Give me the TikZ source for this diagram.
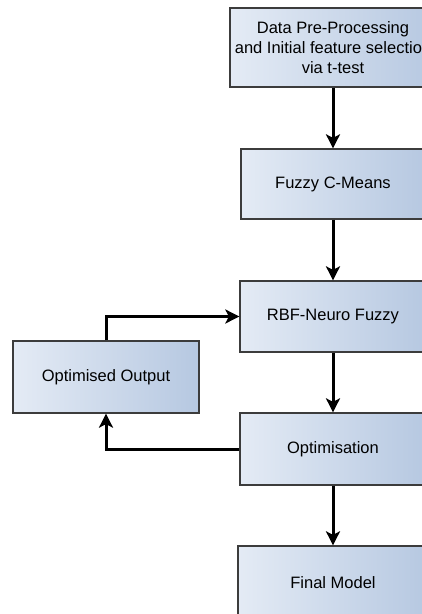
\documentclass[tikz,border=0pt]{standalone}
\usepackage{fontspec}
\setmainfont{Liberation Sans}
\usetikzlibrary{arrows.meta}
\definecolor{boxlight}{HTML}{E4EBF5}
\definecolor{boxdark}{HTML}{B6C8E1}
\definecolor{boxedge}{HTML}{3C3C3C}
\tikzset{
  stagebox/.style={rectangle, draw=boxedge, line width=1.3pt,
    left color=boxlight, right color=boxdark,
    align=center, inner sep=0pt,
    font=\fontsize{16.5}{20}\selectfont},
  flow/.style={line width=3pt, black,
    -{Stealth[length=14pt,width=14pt,inset=3.5pt]}}
}
\begin{document}
\begin{tikzpicture}[x=1pt, y=-1pt]
  \useasboundingbox (0,0) rectangle (422,614);
  \begin{scope}
    \clip (0,0) rectangle (422,614);
    \node[stagebox, minimum width=206pt, minimum height=79pt] (b1) at (333,47.5)
      {Data Pre-Processing\\and Initial feature selection\\via t-test};
    \node[stagebox, minimum width=184pt, minimum height=70pt] (b2) at (333,184)
      {Fuzzy C-Means};
    \node[stagebox, minimum width=186pt, minimum height=71pt] (b3) at (333,316.5)
      {RBF-Neuro Fuzzy};
    \node[stagebox, minimum width=186pt, minimum height=72pt] (b4) at (333,449)
      {Optimisation};
    \node[stagebox, minimum width=190pt, minimum height=74pt] (b5) at (333,583)
      {Final Model};
    \node[stagebox, minimum width=186pt, minimum height=72pt] (oo) at (106,377)
      {Optimised Output};

    \draw[flow] (b1) -- (b2);
    \draw[flow] (b2) -- (b3);
    \draw[flow] (b3) -- (b4);
    \draw[flow] (b4) -- (b5);
    \draw[flow] (oo.north) |- (b3.west);
    \draw[flow] (b4.west) -| (oo.south);
  \end{scope}
\end{tikzpicture}
\end{document}
